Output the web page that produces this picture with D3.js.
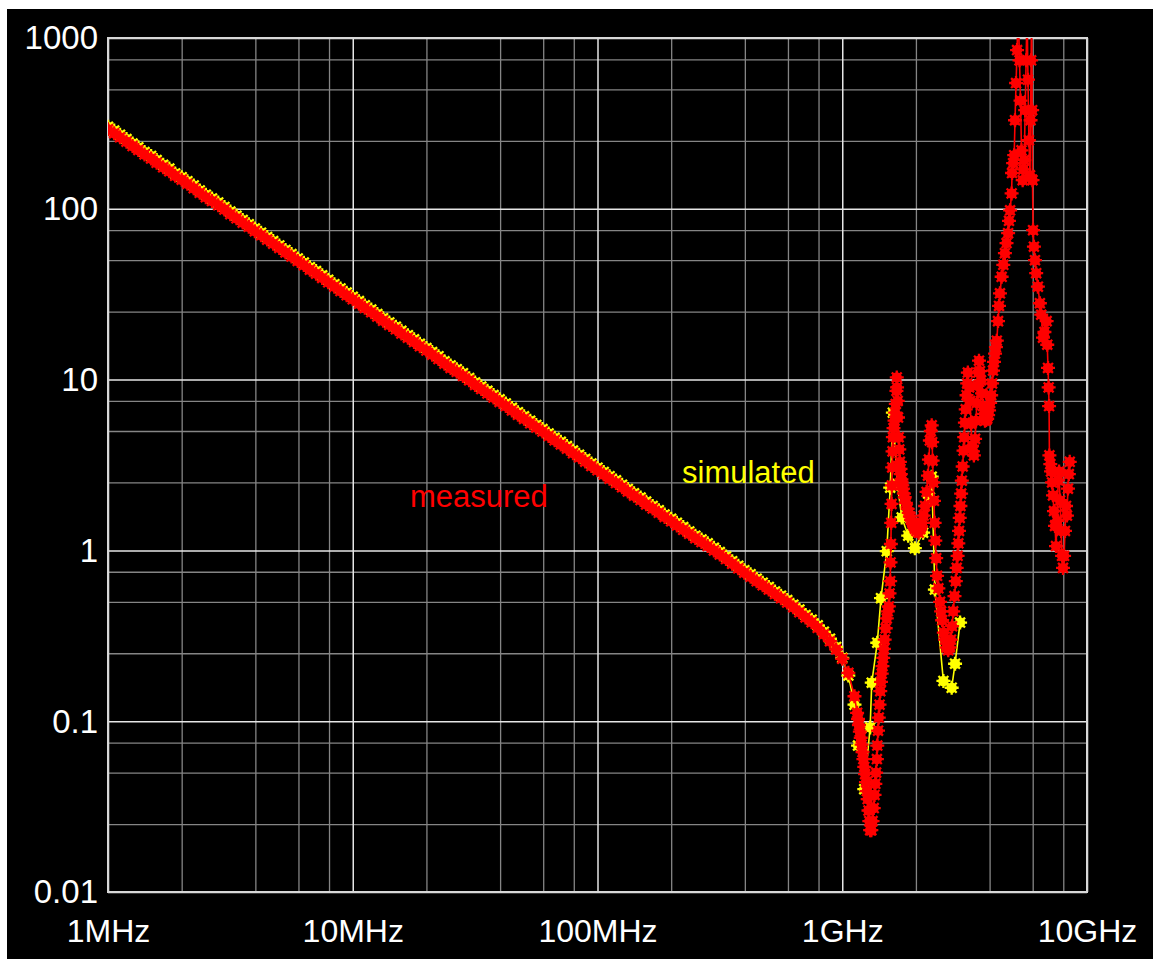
<!DOCTYPE html>
<html><head><meta charset="utf-8">
<script src="https://cdn.jsdelivr.net/npm/d3@7"></script>
<style>html,body{margin:0;padding:0;background:#fff;}svg{display:block;}</style>
</head><body>
<svg id="chart" width="1153" height="959"></svg>
<script>
// ---- data ----
// swept part (MHz) shared by both traces
const sweepMHz = [1,1.06,1.12,1.19,1.26,1.33,1.41,1.5,1.58,1.68,1.78,1.88,2,2.11,2.24,2.37,2.51,2.66,2.82,2.99,3.16,3.35,3.55,3.76,3.98,4.22,4.47,4.73,5.01,5.31,5.62,5.96,6.31,6.68,7.08,7.5,7.94,8.41,8.91,9.44,
10,10.6,11.2,11.9,12.6,13.3,14.1,15,15.8,16.8,17.8,18.8,20,21.1,22.4,23.7,25.1,26.6,28.2,29.9,31.6,33.5,35.5,37.6,39.8,42.2,44.7,47.3,50.1,53.1,56.2,59.6,63.1,66.8,70.8,75,79.4,84.1,89.1,94.4,
100,106,112,119,126,133,141,150,158,168,178,188,200,211,224,237,251,266,282,299,316,335,355,376,398,422,447,473,501,531,562,596,631,668,708,750,794,841,891,944,
1000,1059,1122];
const measuredSweepZ = [292,277,262,247,233,221,208,197,186,175,166,156,148,140,132,124,117,111,105,99,93,88,83,78.5,74,70,66,62.5,59,55.5,52.5,49.5,46.8,44,41.7,39.4,37.1,35,33,31.2,
29.5,27.8,26.3,24.8,23.4,22.1,20.9,19.7,18.6,17.6,16.6,15.7,14.8,14,13.2,12.4,11.7,11.1,10.5,9.9,9.3,8.8,8.3,7.85,7.4,7,6.6,6.22,5.89,5.55,5.25,4.96,4.68,4.41,4.17,3.94,3.71,3.51,3.31,3.12,
2.95,2.78,2.63,2.48,2.34,2.21,2.09,1.97,1.86,1.76,1.66,1.57,1.48,1.4,1.32,1.25,1.18,1.12,1.06,1,0.945,0.89,0.835,0.785,0.74,0.7,0.66,0.625,0.59,0.555,0.525,0.495,0.465,0.435,0.405,0.38,0.352,0.323,0.294,0.263,
0.232,0.192,0.14];
const simulatedSweepZ = [302,287,271,256,241,229,215,204,193,181,172,161,153,145,137,128,121,115,109,102.5,96.3,91,86,81.2,76.6,72.5,68.3,64.7,61,57.4,54.3,51.2,48.4,45.5,43.2,40.8,38.4,36.2,34.2,32.3,
30.5,28.8,27.2,25.7,24.2,22.9,21.6,20.4,19.3,18.2,17.2,16.2,15.3,14.5,13.7,12.8,12.1,11.5,10.9,10.2,9.63,9.1,8.6,8.12,7.66,7.25,6.83,6.44,6.1,5.74,5.43,5.13,4.84,4.56,4.32,4.08,3.84,3.63,3.43,3.23,
3.05,2.88,2.72,2.57,2.42,2.29,2.16,2.04,1.93,1.82,1.72,1.62,1.53,1.45,1.37,1.29,1.22,1.16,1.1,1.035,0.978,0.921,0.864,0.812,0.766,0.725,0.683,0.647,0.611,0.574,0.543,0.512,0.481,0.45,0.419,0.393,0.364,0.334,0.304,0.272,
0.235,0.185,0.125];
// resonance part: [GHz, ohm]
const measuredResonance = [[1.15,0.112],[1.16,0.103],[1.17,0.095],[1.18,0.087],[1.19,0.08],[1.2,0.073],[1.21,0.066],[1.22,0.06],[1.23,0.054],[1.24,0.049],[1.25,0.044],[1.26,0.039],[1.27,0.035],[1.28,0.03],[1.29,0.026],[1.3,0.023],[1.315,0.023],[1.33,0.026],[1.345,0.031],[1.355,0.037],[1.365,0.043],[1.375,0.05],[1.385,0.06],[1.39,0.072],[1.4,0.088],[1.41,0.105],[1.42,0.125],[1.43,0.15],[1.44,0.17],[1.45,0.19],[1.46,0.21],[1.47,0.235],[1.48,0.265],[1.49,0.3],[1.505,0.35],[1.52,0.4],[1.535,0.44],[1.55,0.47],[1.56,0.56],[1.57,0.66],[1.575,0.85],[1.58,1.09],[1.585,1.45],[1.59,1.87],[1.595,2.4],[1.6,3.06],[1.605,3.8],[1.61,4.6],[1.62,5.2],[1.635,5.75],[1.645,6.4],[1.655,7.2],[1.665,8.6],[1.67,10.3],[1.675,9],[1.685,7.5],[1.69,6],[1.7,4.6],[1.71,3.9],[1.72,3.3],[1.73,3],[1.735,2.8],[1.745,2.6],[1.75,2.5],[1.76,2.4],[1.77,2.3],[1.785,2.15],[1.8,2.05],[1.82,1.9],[1.85,1.75],[1.87,1.66],[1.89,1.58],[1.91,1.51],[1.94,1.44],[1.96,1.39],[1.98,1.34],[2.01,1.3],[2.05,1.27],[2.08,1.33],[2.1,1.38],[2.12,1.45],[2.15,1.6],[2.18,1.82],[2.21,2.2],[2.24,2.74],[2.26,3.4],[2.28,4.4],[2.3,5],[2.32,5.4],[2.33,4.3],[2.34,3.35],[2.355,2.5],[2.37,1.95],[2.385,1.45],[2.4,1.14],[2.42,0.9],[2.44,0.71],[2.47,0.6],[2.51,0.5],[2.535,0.44],[2.56,0.39],[2.6,0.33],[2.63,0.3],[2.67,0.27],[2.71,0.26],[2.745,0.27],[2.78,0.3],[2.81,0.36],[2.84,0.44],[2.875,0.54],[2.91,0.66],[2.935,0.79],[2.96,0.93],[2.98,1.1],[3,1.3],[3.02,1.55],[3.04,1.82],[3.06,2.15],[3.08,2.56],[3.105,3.1],[3.13,3.84],[3.15,4.6],[3.17,5.6],[3.195,6.7],[3.22,8.1],[3.24,9.5],[3.26,11],[3.3,9],[3.33,7.5],[3.36,5.5],[3.39,4.1],[3.42,3.8],[3.45,3.6],[3.49,4.5],[3.52,5.75],[3.545,7.3],[3.57,9.2],[3.595,11],[3.62,12.9],[3.655,11.2],[3.69,9.9],[3.725,8.3],[3.76,7],[3.795,6.3],[3.83,5.75],[3.87,5.8],[3.91,5.9],[3.945,6.2],[3.98,6.6],[4.02,7.3],[4.06,8.1],[4.095,9.5],[4.13,11.3],[4.17,12.7],[4.21,14.2],[4.245,15.5],[4.28,16.9],[4.33,22],[4.37,27],[4.41,32],[4.48,40],[4.55,47],[4.62,55],[4.69,63],[4.76,72],[4.8,85],[4.85,98],[4.92,123],[4.94,162],[4.99,185],[5.04,206],[5.08,330],[5.13,545],[5.18,850],[5.23,1500],[5.3,740],[5.35,430],[5.4,220],[5.46,147],[5.5,170],[5.54,193],[5.59,378],[5.64,740],[5.69,1500],[5.74,570],[5.79,252],[5.85,157],[5.88,330],[5.91,740],[5.94,1500],[5.97,378],[5.99,147],[6.02,75],[6.07,60],[6.13,50],[6.2,42],[6.3,35],[6.42,28],[6.5,24],[6.61,17.6],[6.7,19],[6.84,22],[6.88,16],[6.93,11.7],[6.97,9],[7,7],[7.02,3.6],[7.08,3.2],[7.13,2.9],[7.2,2.5],[7.26,2.1],[7.33,1.7],[7.4,1.39],[7.47,1.06],[7.55,1.49],[7.62,2.57],[7.69,2.9],[7.76,1.96],[7.84,1.3],[7.91,0.93],[7.98,0.79],[8.06,0.93],[8.13,1.3],[8.21,1.82],[8.28,1.6],[8.36,2.3],[8.43,2.8],[8.5,3.3]];
const simulatedResonance = [[1.16,0.072],[1.23,0.04],[1.3,0.092],[1.32,0.168],[1.39,0.288],[1.44,0.525],[1.52,0.99],[1.57,2.33],[1.61,6.4],[1.68,2.45],[1.75,1.56],[1.86,1.22],[1.98,1.03],[2.14,1.27],[2.28,2.04],[2.32,2.7],[2.39,0.59],[2.59,0.172],[2.8,0.157],[2.89,0.217],[3.03,0.378]];

const xTickValues = [1e6,1e7,1e8,1e9,1e10];
const xTickLabels = ["1MHz","10MHz","100MHz","1GHz","10GHz"];
const yTickValues = [0.01,0.1,1,10,100,1000];
const yTickLabels = ["0.01","0.1","1","10","100","1000"];
const xMinorMult = [2,4,6,8];
const yMinorMult = [2.5,5,7.5];
const seriesNames = ["measured","simulated"];
const seriesColors = ["#ff0000","#ffff00"];

// ---- build series ----
const measured = sweepMHz.map((f,i)=>({f:f*1e6,z:measuredSweepZ[i]}))
  .concat(measuredResonance.map(([f,z])=>({f:f*1e9,z})));
const simulated = sweepMHz.map((f,i)=>({f:f*1e6,z:simulatedSweepZ[i]}))
  .concat(simulatedResonance.map(([f,z])=>({f:f*1e9,z})));

// ---- layout ----
const L=108, R=1087, T=38, B=892;
const svg = d3.select("#chart");
svg.append("rect").attr("x",7).attr("y",9).attr("width",1146).attr("height",950).attr("fill","#000");

const x = d3.scaleLog().domain([1e6,1e10]).range([L,R]);
const y = d3.scaleLog().domain([0.01,1000]).range([B,T]);

const font = "'Liberation Sans', Arial, Helvetica, sans-serif";

const xMinor = []; [1e6,1e7,1e8,1e9].forEach(d=>xMinorMult.forEach(m=>xMinor.push(d*m)));
const yMinor = []; [0.01,0.1,1,10,100].forEach(d=>yMinorMult.forEach(m=>yMinor.push(d*m)));

const grid = svg.append("g");
function gridLines(axis, tr, color, w){
  grid.append("g").attr("transform",tr).call(axis)
    .call(g=>{g.select(".domain").remove(); g.selectAll("line").attr("stroke",color).attr("stroke-width",w);});
}
gridLines(d3.axisBottom(x).tickValues(xMinor).tickSize(-(B-T)).tickFormat(""),`translate(0,${B})`,"#858585",1.3);
gridLines(d3.axisLeft(y).tickValues(yMinor).tickSize(-(R-L)).tickFormat(""),`translate(${L},0)`,"#858585",1.3);
gridLines(d3.axisBottom(x).tickValues(xTickValues).tickSize(-(B-T)).tickFormat(""),`translate(0,${B})`,"#e6e6e6",1.5);
gridLines(d3.axisLeft(y).tickValues(yTickValues).tickSize(-(R-L)).tickFormat(""),`translate(${L},0)`,"#e6e6e6",1.5);

svg.append("rect").attr("x",L).attr("y",T).attr("width",R-L).attr("height",B-T)
  .attr("fill","none").attr("stroke","#d8d8d8").attr("stroke-width",2);

svg.append("g").attr("transform",`translate(0,${B})`)
  .call(d3.axisBottom(x).tickValues(xTickValues).tickFormat((d,i)=>xTickLabels[i]).tickSize(0))
  .call(g=>{g.select(".domain").remove();
    g.selectAll("text").attr("y",50).attr("dy",null).attr("fill","#fff")
     .attr("font-size",32).attr("font-family",font);});
svg.append("g").attr("transform",`translate(${L},0)`)
  .call(d3.axisLeft(y).tickValues(yTickValues).tickFormat((d,i)=>yTickLabels[i]).tickSize(0).tickPadding(10))
  .call(g=>{g.select(".domain").remove();
    g.selectAll("text").attr("dy","0.33em").attr("fill","#fff")
     .attr("font-size",33).attr("font-family",font);});

svg.append("clipPath").attr("id","plotclip").append("rect")
  .attr("x",L).attr("y",T).attr("width",R-L).attr("height",B-T);
const plot = svg.append("g").attr("clip-path","url(#plotclip)");

const line = d3.line().x(d=>x(d.f)).y(d=>y(d.z));
const ro=7, rd=ro*0.7071;
const starD = `M${-ro},0H${ro}M0,${-ro}V${ro}M${-rd},${-rd}L${rd},${rd}M${-rd},${rd}L${rd},${-rd}`;

function drawSeries(data,color){
  const g = plot.append("g");
  g.append("path").datum(data).attr("d",line).attr("fill","none").attr("stroke",color).attr("stroke-width",1.6);
  const m = g.selectAll("g.m").data(data).join("g").attr("class","m")
    .attr("transform",d=>`translate(${x(d.f)},${y(d.z)})`);
  m.append("path").attr("d",starD).attr("stroke",color).attr("stroke-width",2.3).attr("fill","none");
  m.append("circle").attr("r",5.2).attr("fill",color);
}
drawSeries(simulated,seriesColors[1]);
drawSeries(measured,seriesColors[0]);

svg.append("text").attr("x",410).attr("y",507).attr("fill",seriesColors[0])
  .attr("font-size",31).attr("font-family",font).text(seriesNames[0]);
svg.append("text").attr("x",682).attr("y",483).attr("fill",seriesColors[1])
  .attr("font-size",31).attr("font-family",font).text(seriesNames[1]);
</script>
</body></html>
